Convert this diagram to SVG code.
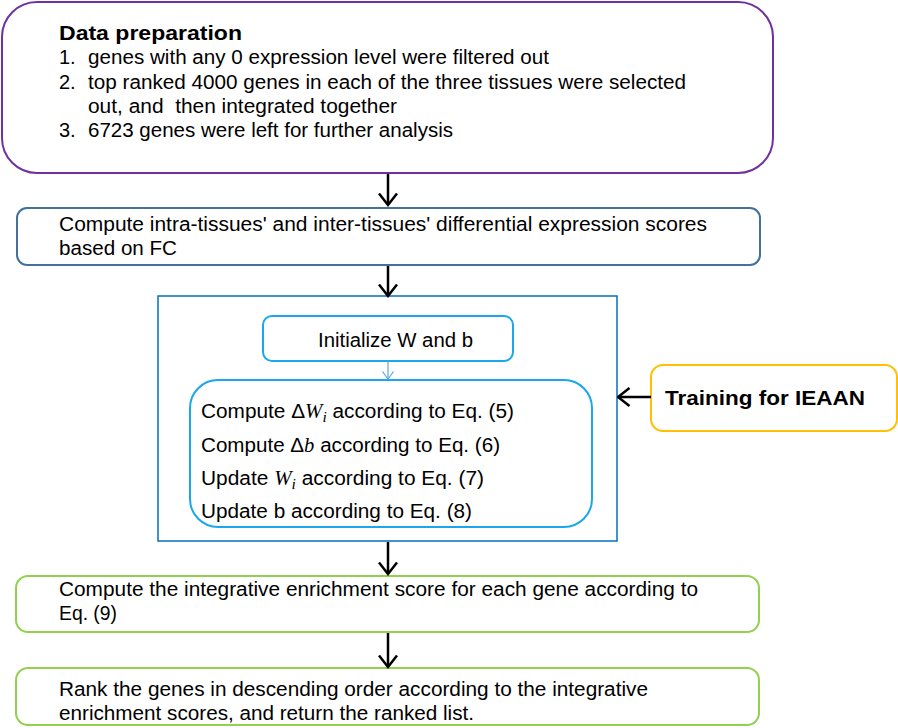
<svg xmlns="http://www.w3.org/2000/svg" width="898" height="728" viewBox="0 0 898 728">
<defs>
<style>
text{font-family:"Liberation Sans",Arial,sans-serif;font-size:20px;fill:#000}
.b{font-weight:bold}
.m{font-family:"Liberation Serif","Times New Roman",serif;font-style:italic}
.box{fill:#fff;stroke-width:2}
.conn{stroke:#000;stroke-width:2.5;fill:none}
</style>
<marker id="ah" viewBox="0 0 14 20" refX="12.5" refY="10" markerWidth="14" markerHeight="20" markerUnits="userSpaceOnUse" orient="auto">
<path d="M1,1 L12.5,10 L1,19" fill="none" stroke="#000" stroke-width="2.5"/>
</marker>
<marker id="ahs" viewBox="0 0 10 12" refX="8" refY="6" markerWidth="10" markerHeight="12" markerUnits="userSpaceOnUse" orient="auto">
<path d="M0.5,0.5 L8,6 L0.5,11.5" fill="none" stroke="#5aa6e0" stroke-width="1.2"/>
</marker>
</defs>
<rect width="898" height="728" fill="#fff"/>

<g id="data-preparation">
<rect class="box" x="2" y="2" width="771" height="171" rx="35" stroke="#7030A0"/>
<text class="b" x="59" y="40" font-size="21" textLength="183" lengthAdjust="spacingAndGlyphs">Data preparation</text>
<text x="59" y="64">1.</text>
<text x="88" y="64" textLength="461" lengthAdjust="spacingAndGlyphs">genes with any 0 expression level were filtered out</text>
<text x="59" y="88.5">2.</text>
<text x="88" y="88.5" textLength="598" lengthAdjust="spacingAndGlyphs">top ranked 4000 genes in each of the three tissues were selected</text>
<text x="88" y="112.5" textLength="309" lengthAdjust="spacingAndGlyphs" xml:space="preserve">out, and  then integrated together</text>
<text x="59" y="137">3.</text>
<text x="88" y="137" textLength="365" lengthAdjust="spacingAndGlyphs">6723 genes were left for further analysis</text>
</g>

<g id="compute-de-scores">
<rect class="box" x="17" y="208" width="743" height="57" rx="10" stroke="#41719C"/>
<text x="59" y="231" textLength="648" lengthAdjust="spacingAndGlyphs">Compute intra-tissues' and inter-tissues' differential expression scores</text>
<text x="59" y="255" textLength="118" lengthAdjust="spacingAndGlyphs">based on FC</text>
</g>

<g id="training-block">
<rect x="158" y="296" width="459" height="245" fill="#fff" stroke="#0070C0" stroke-width="1.5"/>
</g>

<g id="initialize">
<rect class="box" x="263" y="316" width="250" height="45" rx="9" stroke="#1AA7EC"/>
<text x="318" y="347" textLength="155" lengthAdjust="spacingAndGlyphs">Initialize W and b</text>
</g>

<g id="update-steps">
<rect class="box" x="190" y="380" width="402" height="147" rx="28" stroke="#1AA7EC"/>
<text x="201" y="418" textLength="313" lengthAdjust="spacingAndGlyphs">Compute Δ<tspan class="m">W</tspan><tspan class="m" font-size="15" dy="4">i</tspan><tspan dy="-4"> according to Eq. (5)</tspan></text>
<text x="201" y="452" textLength="299" lengthAdjust="spacingAndGlyphs">Compute Δ<tspan class="m">b</tspan> according to Eq. (6)</text>
<text x="201" y="485" textLength="283" lengthAdjust="spacingAndGlyphs">Update <tspan class="m">W</tspan><tspan class="m" font-size="15" dy="4">i</tspan><tspan dy="-4"> according to Eq. (7)</tspan></text>
<text x="201" y="518" textLength="271" lengthAdjust="spacingAndGlyphs">Update b according to Eq. (8)</text>
</g>

<g id="training-label">
<rect class="box" x="651" y="365" width="246" height="66" rx="12" stroke="#FFC000"/>
<text class="b" x="665" y="405" font-size="22" textLength="200" lengthAdjust="spacingAndGlyphs">Training for IEAAN</text>
</g>

<g id="enrichment-score">
<rect class="box" x="16" y="576" width="743" height="56" rx="12" stroke="#92D050"/>
<text x="59" y="596" textLength="639" lengthAdjust="spacingAndGlyphs">Compute the integrative enrichment score for each gene according to</text>
<text x="59" y="620" textLength="58" lengthAdjust="spacingAndGlyphs">Eq. (9)</text>
</g>

<g id="rank-genes">
<rect class="box" x="16" y="668" width="743" height="57" rx="12" stroke="#92D050"/>
<text x="59" y="696" textLength="589" lengthAdjust="spacingAndGlyphs">Rank the genes in descending order according to the integrative</text>
<text x="59" y="720" textLength="415" lengthAdjust="spacingAndGlyphs">enrichment scores, and return the ranked list.</text>
</g>

<g id="connectors">
<line class="conn" x1="388" y1="174" x2="388" y2="205" marker-end="url(#ah)"/>
<line class="conn" x1="388" y1="266" x2="388" y2="296" marker-end="url(#ah)"/>
<line x1="388" y1="361" x2="388" y2="379" stroke="#5aa6e0" stroke-width="1.2" marker-end="url(#ahs)"/>
<line class="conn" x1="651" y1="397" x2="618" y2="397" marker-end="url(#ah)"/>
<line class="conn" x1="388" y1="542" x2="388" y2="574" marker-end="url(#ah)"/>
<line class="conn" x1="388" y1="633" x2="388" y2="667" marker-end="url(#ah)"/>
</g>
</svg>
